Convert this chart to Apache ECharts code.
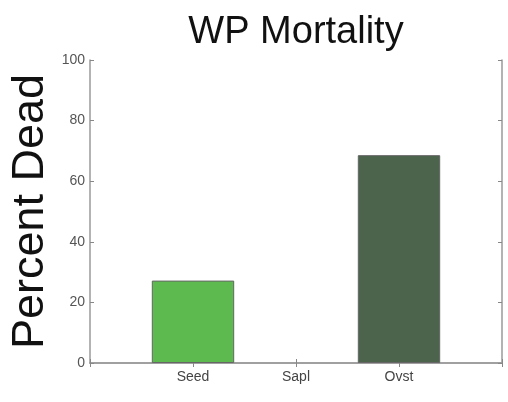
<!DOCTYPE html>
<html>
<head>
<meta charset="utf-8">
<script src="https://cdn.jsdelivr.net/npm/echarts@6/dist/echarts.min.js"></script>
<style>
  html, body { margin: 0; padding: 0; background: #fff; }
  #main { width: 508px; height: 402px; }
</style>
</head>
<body>
<div id="main"></div>
<script>
// categories padded with empty slots so the box spans 0..4 like the original
var categories = ['', 'Seed', 'Sapl', 'Ovst', ''];
var percentDead = [null, 27.2, 0, 68.6, null];
var barColors = [null, '#5cba4e', '#5cba4e', '#4b644b', null];
var yTicks = { min: 0, max: 100, interval: 20 };

var myChart = echarts.init(document.getElementById('main'));

var font = 'Liberation Sans, Arial, sans-serif';
var axisLine = { show: true, lineStyle: { color: '#9a9a9a', width: 1.5 } };
var tick = { show: true, inside: true, length: 4, lineStyle: { color: '#888' } };

var option = {
    animation: false,
    title: {
        text: 'WP Mortality',
        left: 291,
        textAlign: 'center',
        top: 9,
        textStyle: { fontFamily: font, fontSize: 38, fontWeight: 'normal', color: '#111' }
    },
    grid: { left: 90, right: 6, top: 60, bottom: 39, outerBoundsMode: 'none', containLabel: false },
    xAxis: [
        {
            type: 'category',
            data: categories,
            boundaryGap: false,
            axisLine: axisLine,
            axisTick: tick,
            axisLabel: { color: '#444', fontFamily: font, fontSize: 14, margin: 7 },
            splitLine: { show: false }
        },
        {
            type: 'category',
            data: categories,
            position: 'top',
            boundaryGap: false,
            axisLine: axisLine,
            axisTick: tick,
            axisLabel: { show: false },
            splitLine: { show: false }
        }
    ],
    yAxis: [
        {
            type: 'value',
            min: yTicks.min,
            max: yTicks.max,
            interval: yTicks.interval,
            name: 'Percent Dead',
            nameLocation: 'middle',
            nameGap: 37,
            nameMoveOverlap: false,
            nameTextStyle: { fontFamily: font, fontSize: 45, color: '#111' },
            axisLine: axisLine,
            axisTick: tick,
            axisLabel: { color: '#555', fontFamily: font, fontSize: 14, margin: 5 },
            splitLine: { show: false }
        },
        {
            type: 'value',
            position: 'right',
            min: yTicks.min,
            max: yTicks.max,
            interval: yTicks.interval,
            axisLine: axisLine,
            axisTick: tick,
            axisLabel: { show: false },
            splitLine: { show: false }
        }
    ],
    series: [{
        type: 'bar',
        barWidth: '80%',
        data: percentDead.map(function (v, i) {
            return {
                value: v,
                itemStyle: { color: barColors[i], borderWidth: v ? 1 : 0 }
            };
        }),
        itemStyle: { borderColor: '#666', borderWidth: 1 }
    }]
};

myChart.setOption(option);
</script>
</body>
</html>
